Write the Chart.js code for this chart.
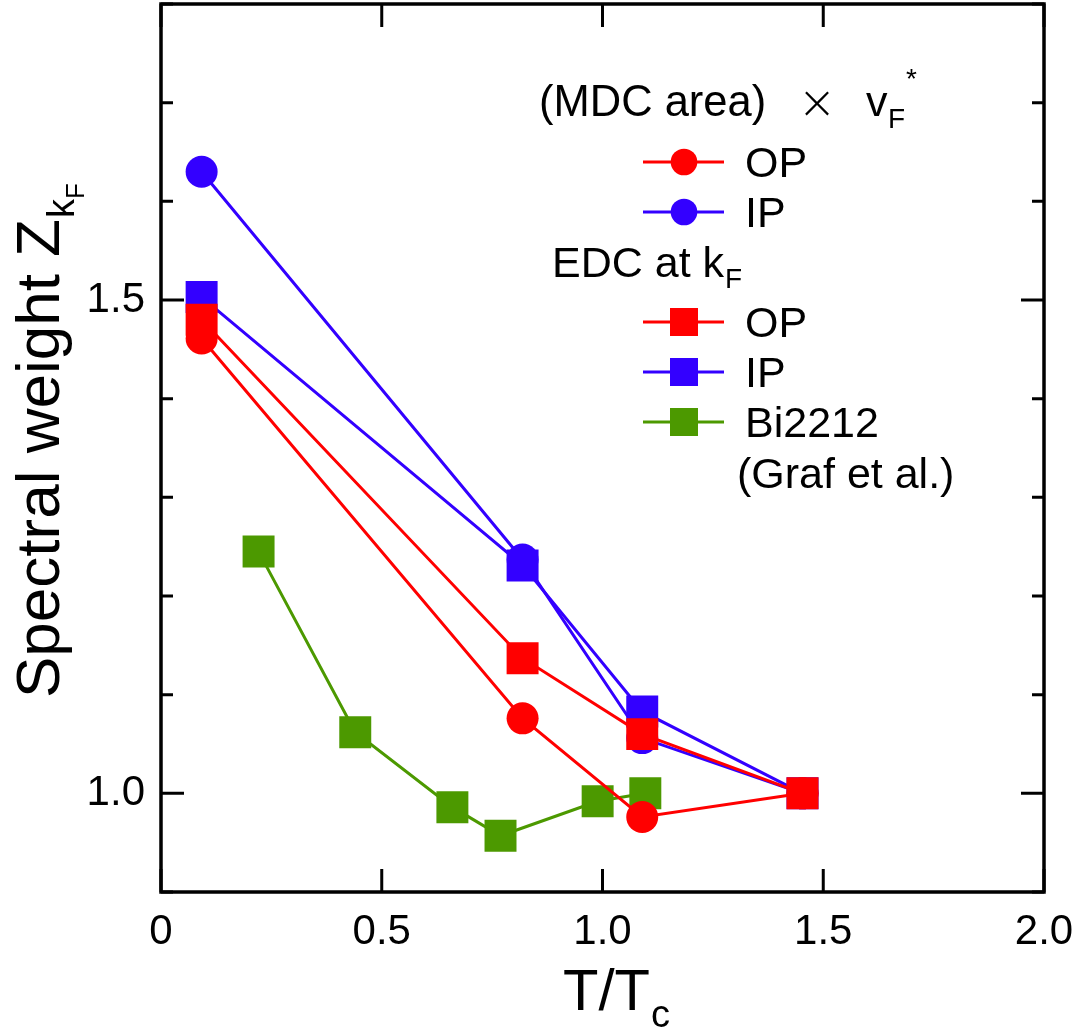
<!DOCTYPE html>
<html><head><meta charset="utf-8">
<script src="https://cdn.jsdelivr.net/npm/chart.js@4.4.1/dist/chart.umd.min.js"></script>
<style>html,body{margin:0;padding:0;background:#fff;}#wrap{width:1081px;height:1034px;position:relative;}</style>
</head><body><div id="wrap"><canvas id="c" width="1081" height="1034"></canvas></div>
<script>
const FONT = '"Liberation Sans", Arial, Helvetica, sans-serif';
// ---- data ----
const mdcOP_T = [0.092, 0.819, 1.090, 1.453];
const mdcOP_Z = [1.461, 1.076, 0.976, 1.000];
const mdcIP_T = [0.092, 0.819, 1.090, 1.453];
const mdcIP_Z = [1.630, 1.237, 1.056, 1.000];
const edcOP_T = [0.092, 0.819, 1.090, 1.453];
const edcOP_Z = [1.480, 1.137, 1.060, 1.000];
const edcIP_T = [0.092, 0.819, 1.090, 1.453];
const edcIP_Z = [1.503, 1.231, 1.083, 1.000];
const bi_T = [0.221, 0.440, 0.660, 0.769, 0.989, 1.097];
const bi_Z = [1.245, 1.062, 0.986, 0.957, 0.992, 1.000];
// ---- axis ticks ----
const xTicks = [0, 0.5, 1.0, 1.5, 2.0];
const xTickLabels = ['0', '0.5', '1.0', '1.5', '2.0'];
const yTicks = [0.9, 1.0, 1.1, 1.2, 1.3, 1.4, 1.5, 1.6, 1.7, 1.8];
const yMajorTicks = [1.0, 1.5];
const yTickLabels = ['1.0', '1.5'];

const RED = '#ff0000', BLUE = '#3300ff', GREEN = '#4c9900';
const pts = (xs, ys) => xs.map((x, i) => ({x: x, y: ys[i]}));

function mkSet(label, xs, ys, color, style, order) {
  return {
    label: label, data: pts(xs, ys), showLine: true,
    borderColor: color, backgroundColor: color, borderWidth: 3,
    pointStyle: style, pointRadius: style === 'rect' ? 22.6 : 16,
    pointHoverRadius: style === 'rect' ? 22.6 : 16,
    pointBorderWidth: 0, pointBackgroundColor: color, pointBorderColor: color,
    order: order, tension: 0
  };
}

function zeroPad(s) { s.paddingTop = 0; s.paddingBottom = 0; s.paddingLeft = 0; s.paddingRight = 0; }

const framePlugin = {
  id: 'frame',
  afterDraw(chart) {
    const ctx = chart.ctx, a = chart.chartArea;
    const xs = chart.scales.x, ys = chart.scales.y;
    ctx.save();
    ctx.strokeStyle = '#000';
    ctx.lineWidth = 3;
    ctx.beginPath();
    xTicks.forEach(v => {
      const p = xs.getPixelForValue(v);
      ctx.moveTo(p, a.bottom); ctx.lineTo(p, a.bottom - 23);
      ctx.moveTo(p, a.top); ctx.lineTo(p, a.top + 23);
    });
    yTicks.forEach(v => {
      const p = ys.getPixelForValue(v);
      const L = yMajorTicks.some(m => Math.abs(m - v) < 1e-6) ? 23 : 12;
      ctx.moveTo(a.left, p); ctx.lineTo(a.left + L, p);
      ctx.moveTo(a.right, p); ctx.lineTo(a.right - L, p);
    });
    ctx.stroke();
    ctx.lineWidth = 3.5;
    ctx.strokeRect(a.left, a.top, a.right - a.left, a.bottom - a.top);
    ctx.restore();
  }
};

const textPlugin = {
  id: 'texts',
  afterDraw(chart) {
    const ctx = chart.ctx;
    const ds = chart.data.datasets;
    ctx.save();
    ctx.fillStyle = '#000';
    ctx.textBaseline = 'alphabetic';
    ctx.textAlign = 'left';
    // x title
    ctx.font = '58px ' + FONT;
    const xt = 'T/T';
    ctx.fillText(xt, 563, 1010);
    const wxt = ctx.measureText(xt).width;
    ctx.font = '38px ' + FONT;
    ctx.fillText('c', 563 + wxt + 1, 1027);
    // y title
    ctx.save();
    ctx.translate(59, 698);
    ctx.rotate(-Math.PI / 2);
    ctx.font = '62px ' + FONT;
    const yt = 'Spectral weight Z';
    ctx.fillText(yt, 0, 0);
    const wyt = ctx.measureText(yt).width;
    ctx.font = '38px ' + FONT;
    ctx.fillText('k', wyt + 1, 15);
    const wk = ctx.measureText('k').width;
    ctx.font = '26px ' + FONT;
    ctx.fillText('F', wyt + 1 + wk, 25);
    ctx.restore();

    // legend header 1
    ctx.font = '43.5px ' + FONT;
    ctx.fillText('(MDC area)', 539, 116);
    ctx.font = '300 46px "DejaVu Sans", ' + FONT;
    ctx.textAlign = 'center';
    ctx.fillText('\u00d7', 817, 118);
    ctx.textAlign = 'left';
    ctx.font = '43px ' + FONT;
    ctx.fillText('v', 866, 116);
    ctx.font = '28px ' + FONT;
    ctx.fillText('F', 888, 128);
    ctx.fillText('*', 906, 88);
    // legend header 2
    ctx.font = '43px ' + FONT;
    const eh = 'EDC at k';
    ctx.fillText(eh, 552, 277);
    const weh = ctx.measureText(eh).width;
    ctx.font = '28px ' + FONT;
    ctx.fillText('F', 552 + weh + 1, 288);

    const rows = [
      {d: ds[0], y: 162, t: 'OP', shape: 'c'},
      {d: ds[1], y: 212, t: 'IP', shape: 'c'},
      {d: ds[2], y: 322, t: 'OP', shape: 's'},
      {d: ds[3], y: 372, t: 'IP', shape: 's'},
      {d: ds[4], y: 422, t: 'Bi2212', shape: 's'}
    ];
    rows.forEach(r => {
      ctx.strokeStyle = r.d.borderColor;
      ctx.fillStyle = r.d.backgroundColor;
      ctx.lineWidth = 3;
      ctx.beginPath(); ctx.moveTo(643, r.y); ctx.lineTo(724, r.y); ctx.stroke();
      ctx.beginPath();
      if (r.shape === 'c') { ctx.arc(684, r.y, 13.3, 0, Math.PI * 2); ctx.fill(); }
      else { ctx.fillRect(670, r.y - 14, 28, 28); }
      ctx.fillStyle = '#000';
      ctx.font = '43px ' + FONT;
      ctx.fillText(r.t, 745, r.y + 15);
    });
    ctx.fillText('(Graf et al.)', 737, 488);
    ctx.restore();
  }
};

new Chart(document.getElementById('c'), {
  type: 'scatter',
  data: {
    datasets: [
      mkSet('MDC OP', mdcOP_T, mdcOP_Z, RED, 'circle', 2),
      mkSet('MDC IP', mdcIP_T, mdcIP_Z, BLUE, 'circle', 4),
      mkSet('EDC OP', edcOP_T, edcOP_Z, RED, 'rect', 1),
      mkSet('EDC IP', edcIP_T, edcIP_Z, BLUE, 'rect', 3),
      mkSet('Bi2212 (Graf et al.)', bi_T, bi_Z, GREEN, 'rect', 5)
    ]
  },
  options: {
    responsive: false, animation: false, devicePixelRatio: 1,
    layout: {autoPadding: false, padding: {left: 0, top: 4, right: 37, bottom: 0}},
    plugins: {legend: {display: false}, tooltip: {enabled: false}},
    scales: {
      x: {
        type: 'linear', min: 0, max: 2,
        afterBuildTicks: s => { s.ticks = xTicks.map(v => ({value: v})); },
        afterFit: s => { s.height = 142; zeroPad(s); },
        grid: {display: false, drawTicks: false}, border: {display: false},
        ticks: {
          autoSkip: false, maxRotation: 0, padding: 15, color: '#000',
          font: {size: 42, family: FONT},
          callback: (v, i) => xTickLabels[i]
        }
      },
      y: {
        type: 'linear', min: 0.9, max: 1.8,
        afterBuildTicks: s => { s.ticks = yTicks.map(v => ({value: v})); },
        afterFit: s => { s.width = 161; zeroPad(s); },
        grid: {display: false, drawTicks: false}, border: {display: false},
        ticks: {
          autoSkip: false, padding: 16, color: '#000',
          font: {size: 42, family: FONT},
          callback: (v) => {
            const k = yMajorTicks.findIndex(m => Math.abs(m - v) < 1e-6);
            return k >= 0 ? yTickLabels[k] : '';
          }
        }
      }
    }
  },
  plugins: [framePlugin, textPlugin]
});
</script></body></html>
